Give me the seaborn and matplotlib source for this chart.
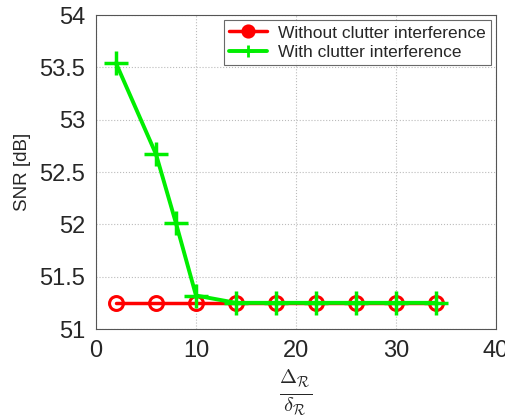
import matplotlib
matplotlib.use("Agg")
import matplotlib.pyplot as plt
import seaborn as sns
import pandas as pd

x_without = [2, 6, 10, 14, 18, 22, 26, 30, 34]
snr_without = [51.25, 51.25, 51.25, 51.25, 51.25, 51.25, 51.25, 51.25, 51.25]
x_with = [2, 6, 8, 10, 14, 18, 22, 26, 30, 34]
snr_with = [53.54, 52.67, 52.01, 51.32, 51.25, 51.25, 51.25, 51.25, 51.25, 51.25]
labels = ["Without clutter interference", "With clutter interference"]

sns.set_theme(style="whitegrid")
plt.rcParams['font.family'] = ['Liberation Sans', 'DejaVu Sans']
plt.rcParams['mathtext.fontset'] = 'cm'

fig = plt.figure(figsize=(5.06, 4.18), dpi=100)
ax = fig.add_axes([96/506, 1-329/418, 400/506, 314/418])

df1 = pd.DataFrame({"x": x_without, "y": snr_without})
df2 = pd.DataFrame({"x": x_with, "y": snr_with})
sns.lineplot(data=df1, x="x", y="y", ax=ax, color="#ff0000", lw=2.5,
             marker="o", markersize=10, markerfacecolor="none",
             markeredgecolor="#ff0000", markeredgewidth=2.2, label=labels[0])
sns.lineplot(data=df2, x="x", y="y", ax=ax, color="#00ee00", lw=2.8,
             marker="+", markersize=17, markeredgewidth=2.5,
             markeredgecolor="#00ee00", label=labels[1])

ax.set_xlim(0, 40)
ax.set_ylim(51, 54)
ax.set_xticks([0, 10, 20, 30, 40])
ax.set_yticks([51, 51.5, 52, 52.5, 53, 53.5, 54])
ax.set_yticklabels(["51", "51.5", "52", "52.5", "53", "53.5", "54"])
ax.tick_params(labelsize=17, pad=2)
ax.set_ylabel("SNR [dB]", fontsize=13.5, labelpad=6)
ax.set_xlabel(r"$\frac{\Delta_\mathcal{R}}{\delta_\mathcal{R}}$", fontsize=21, labelpad=4)
ax.grid(True, color="#bbbbbb", linestyle=":", linewidth=0.8)
for s in ax.spines.values():
    s.set_color("#555555")
    s.set_linewidth(0.8)

leg = ax.legend(loc="upper right", fontsize=12.5, frameon=True, fancybox=False,
                borderaxespad=0.3, handlelength=2.2, borderpad=0.3,
                labelspacing=0.25, handletextpad=0.6)
leg.get_frame().set_edgecolor("#444444")
leg.get_frame().set_linewidth(0.8)
h = leg.legend_handles
h[0].set_markerfacecolor("#ff0000")
h[0].set_markersize(8)
h[1].set_markersize(8)
h[1].set_markeredgewidth(2)

fig.savefig("out.png", dpi=100)
